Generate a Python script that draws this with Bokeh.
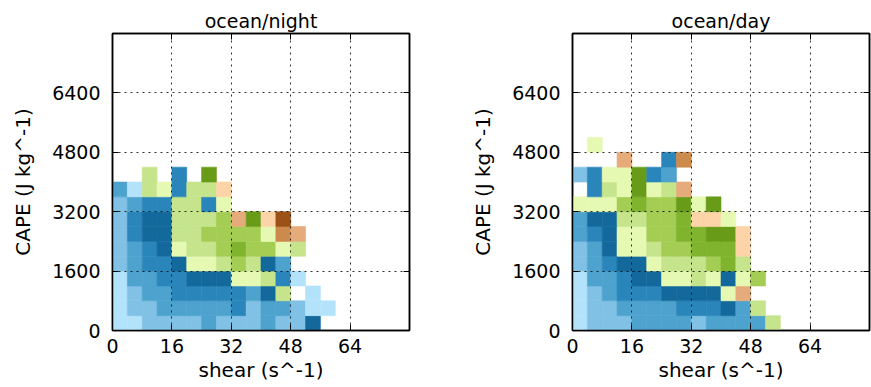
import numpy as np
from bokeh.plotting import figure
from bokeh.models import Range1d, LinearAxis, FixedTicker, LinearColorMapper, ColumnDataSource
from bokeh.layouts import row
from bokeh.embed import file_html
from bokeh.resources import INLINE

# ---------------- data ----------------
SHEAR_BIN = 4        # s^-1 per cell
CAPE_BIN = 400       # J kg^-1 per cell
x_ticks = [0, 16, 32, 48, 64]
y_ticks = [0, 1600, 3200, 4800, 6400]
titles = ["ocean/night", "ocean/day"]
x_label = "shear (s^-1)"
y_label = "CAPE (J kg^-1)"

# colour levels 1..14
palette = ["#b3e3fb", "#80c1e5", "#4da2ce", "#2a86ba", "#13699c",
           "#e5f9b2", "#c5e48c", "#a4cd53", "#80b32e", "#689c18",
           "#fdd3a8", "#e5ab7a", "#cd8a4d", "#9c5216"]

N = None
# rows: index = CAPE bin (0-400, 400-800, ...), entries = shear bins (0-4, 4-8, ...)
night_rows = [
    [1, 1, 2, 2, 2, 2, 3, 2, 2, 2, 3, 2, 2, 5],
    [1, 2, 2, 3, 3, 3, 3, 3, 4, 2, 3, 3, 2, 1, 1],
    [1, 2, 3, 3, 4, 4, 4, 4, 4, 3, 5, 7, N, 1],
    [1, 3, 3, 4, 4, 5, 5, 5, 6, 6, 7, 4, 1],
    [2, 3, 4, 4, 5, 6, 6, 7, 8, 7, 5, 3],
    [2, 3, 4, 5, 6, 7, 7, 8, 9, 8, 8, 6, 7],
    [2, 4, 5, 5, 7, 7, 8, 8, 8, 8, 6, 13, 12],
    [2, 4, 5, 5, 7, 7, 7, 8, 12, 10, 11, 14],
    [2, 3, 4, 4, 7, 7, 4, 6],
    [3, 1, 7, 6, 4, 7, 7, 11],
    [N, N, 7, N, 4, N, 10],
]
day_rows = [
    [1, 2, 2, 2, 3, 3, 3, 3, 2, 3, 3, 3, 3, 7],
    [1, 2, 2, 3, 3, 3, 3, 4, 4, 4, 5, 3, 7],
    [1, 2, 3, 4, 4, 4, 5, 5, 5, 5, 6, 12],
    [1, 3, 3, 4, 5, 5, 6, 6, 7, 6, 5, 6, 8],
    [2, 3, 4, 5, 5, 6, 7, 7, 7, 8, 9, 7],
    [2, 3, 5, 6, 6, 7, 8, 8, 9, 9, 9, 11],
    [3, 4, 5, 6, 6, 8, 8, 9, 9, 10, 10, 11],
    [3, 5, 5, 7, 7, 8, 8, 9, 11, 11, 6],
    [6, 6, 6, 8, 9, 8, 8, 10, 6, 10],
    [N, 4, 7, 6, 10, 6, 7, 12],
    [2, 4, 6, 6, 10, 4, 3],
    [N, N, N, 12, N, N, 4, 13],
    [N, 6],
]

FONT = "DejaVu Sans"
mapper = LinearColorMapper(palette=palette, low=0.5, high=len(palette) + 0.5)


def style_axis(ax, ticks, show_labels=True):
    ax.ticker = FixedTicker(ticks=ticks, minor_ticks=[])
    ax.major_tick_in = 6
    ax.major_tick_out = 0
    ax.major_tick_line_color = "black"
    ax.major_tick_line_width = 1
    ax.minor_tick_line_color = None
    ax.axis_line_color = "black"
    ax.axis_line_width = 1.5
    ax.major_label_text_font = FONT
    ax.major_label_text_color = "black"
    ax.axis_label_text_font = FONT
    ax.axis_label_text_font_style = "normal"
    ax.axis_label_text_color = "black"
    ax.axis_label_text_font_size = "20px"
    if show_labels:
        ax.major_label_text_font_size = "19px"
    else:
        ax.major_label_text_font_size = "0px"
        ax.major_label_overrides = {t: "" for t in ticks}
        ax.major_label_standoff = 0


def make_fig(title, rows, left_border, right_border):
    p = figure(frame_width=297, frame_height=297,
               x_range=Range1d(0, 80), y_range=Range1d(0, 8000),
               output_backend="svg", toolbar_location=None,
               min_border_left=left_border, min_border_right=right_border,
               min_border_top=33, min_border_bottom=57,
               background_fill_color="white", border_fill_color="white",
               title=title)
    xs, ys, vs = [], [], []
    for j, r in enumerate(rows):
        for i, v in enumerate(r):
            if v is None:
                continue
            xs.append((i + 0.5) * SHEAR_BIN)
            ys.append((j + 0.5) * CAPE_BIN)
            vs.append(v)
    src = ColumnDataSource(dict(x=xs, y=ys, v=vs))
    p.rect(x="x", y="y", width=SHEAR_BIN, height=CAPE_BIN, source=src,
           fill_color={"field": "v", "transform": mapper},
           line_color={"field": "v", "transform": mapper}, line_width=0.6)

    style_axis(p.xaxis[0], x_ticks)
    style_axis(p.yaxis[0], y_ticks)
    p.xaxis[0].axis_label = x_label
    p.yaxis[0].axis_label = y_label
    p.xaxis[0].major_label_standoff = 8
    p.xaxis[0].axis_label_standoff = 2
    p.yaxis[0].major_label_standoff = 12
    p.yaxis[0].axis_label_standoff = 14

    top = LinearAxis()
    style_axis(top, x_ticks, show_labels=False)
    p.add_layout(top, "above")
    right = LinearAxis()
    style_axis(right, y_ticks, show_labels=False)
    p.add_layout(right, "right")

    for g, t in ((p.xgrid[0], x_ticks), (p.ygrid[0], y_ticks)):
        g.ticker = FixedTicker(ticks=t, minor_ticks=[])
        g.grid_line_color = "black"
        g.grid_line_dash = "2 4"
        g.grid_line_width = 1
        g.grid_line_alpha = 0.8
        g.level = "overlay"

    p.outline_line_color = "black"
    p.outline_line_width = 1.5
    p.outline_line_alpha = 1

    p.title.text_font = FONT
    p.title.text_font_size = "19px"
    p.title.text_font_style = "normal"
    p.title.text_color = "black"
    p.title.align = "center"
    p.title.standoff = 4
    return p


p1 = make_fig(titles[0], night_rows, 112, 31)
p2 = make_fig(titles[1], day_rows, 132, 2)
layout = row(p1, p2)

open("out.html", "w").write(file_html(layout, INLINE))
